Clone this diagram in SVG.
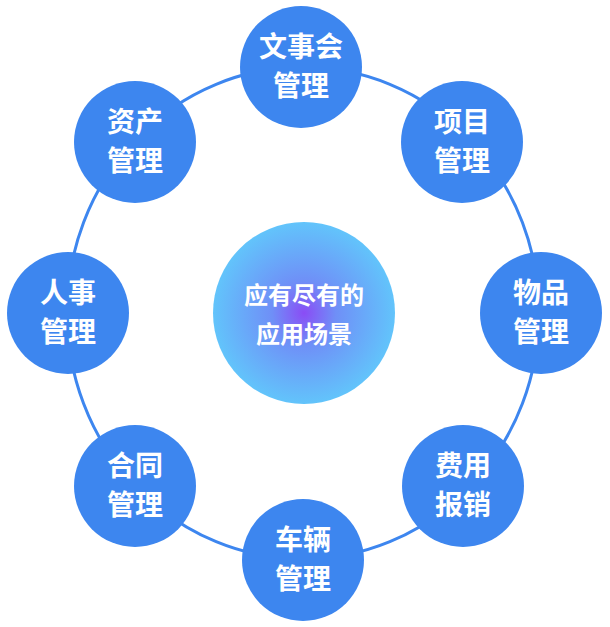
<svg xmlns="http://www.w3.org/2000/svg" width="610" height="627" viewBox="0 0 610 627">
<defs>
<radialGradient id="cg" cx="0.5" cy="0.5" r="0.5">
<stop offset="0" stop-color="#8a4cf5"/>
<stop offset="0.35" stop-color="#6f8ff7"/>
<stop offset="1" stop-color="#62c4fb"/>
</radialGradient>
<style>
.n{fill:#3d86ef}
.t{fill:#fff;font-family:"Noto Sans CJK SC",sans-serif;font-weight:bold;font-size:28px;text-anchor:middle}
.c{fill:#fff;font-family:"Noto Sans CJK SC",sans-serif;font-weight:bold;font-size:24px;text-anchor:middle}
</style>
</defs>
<g id="connectors"><ellipse cx="303" cy="313" rx="236" ry="246" fill="none" stroke="#3d86ef" stroke-width="3"/></g>
<g id="center"><circle cx="304" cy="313" r="91" fill="url(#cg)"/><text class="c" x="304" y="304">应有尽有的</text><text class="c" x="304" y="343">应用场景</text></g>
<g id="n1"><circle class="n" cx="301" cy="67" r="61"/><text class="t" x="301" y="57">文事会</text><text class="t" x="301" y="96">管理</text></g>
<g id="n2"><circle class="n" cx="462" cy="142" r="61"/><text class="t" x="462" y="132">项目</text><text class="t" x="462" y="171">管理</text></g>
<g id="n3"><circle class="n" cx="541" cy="313" r="61"/><text class="t" x="541" y="303">物品</text><text class="t" x="541" y="342">管理</text></g>
<g id="n4"><circle class="n" cx="463" cy="486" r="61"/><text class="t" x="463" y="476">费用</text><text class="t" x="463" y="515">报销</text></g>
<g id="n5"><circle class="n" cx="303" cy="560" r="61"/><text class="t" x="303" y="550">车辆</text><text class="t" x="303" y="589">管理</text></g>
<g id="n6"><circle class="n" cx="135" cy="486" r="61"/><text class="t" x="135" y="476">合同</text><text class="t" x="135" y="515">管理</text></g>
<g id="n7"><circle class="n" cx="68" cy="313" r="61"/><text class="t" x="68" y="303">人事</text><text class="t" x="68" y="342">管理</text></g>
<g id="n8"><circle class="n" cx="135" cy="142" r="61"/><text class="t" x="135" y="132">资产</text><text class="t" x="135" y="171">管理</text></g>
</svg>
